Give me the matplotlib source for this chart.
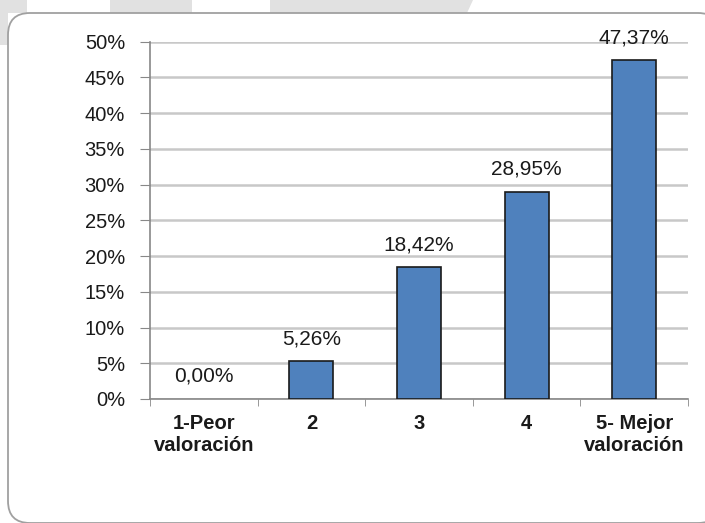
import numpy as np
import matplotlib
matplotlib.use('Agg')
from matplotlib import pyplot as plt
from matplotlib.patches import FancyBboxPatch, Polygon
from matplotlib.ticker import FixedLocator

plt.rcParams['font.family'] = ['Liberation Sans', 'DejaVu Sans']

# datos
categorias = ['1-Peor\nvaloración', '2', '3', '4', '5- Mejor\nvaloración']
valores = [0.00, 5.26, 18.42, 28.95, 47.37]
etiquetas = ['0,00%', '5,26%', '18,42%', '28,95%', '47,37%']
yticks = [0, 5, 10, 15, 20, 25, 30, 35, 40, 45, 50]

W, H = 705, 523
fig = plt.figure(figsize=(W/100, H/100), dpi=100)
fig.patch.set_facecolor('white')

# franja gris de fondo arriba (en pixeles, y desde arriba)
def px(pts):
    return [(x, H - y) for x, y in pts]

gris = '#e1e1e1'
for pts in ([(0, 0), (27, 0), (27, 13), (8, 13), (8, 45), (0, 45)],
            [(110, 0), (192, 0), (192, 13), (110, 13)],
            [(270, 0), (473, 0), (467, 13), (270, 13)]):
    fig.patches.append(Polygon(px(pts), closed=True, transform=None,
                               facecolor=gris, edgecolor='none', zorder=0))

# marco redondeado (sale por la derecha)
caja = FancyBboxPatch((8, 0), 712, 510, boxstyle='round,pad=0,rounding_size=22',
                      transform=None, facecolor='white', edgecolor='#a0a0a0',
                      linewidth=1.3, zorder=1)
fig.patches.append(caja)

ax = fig.add_axes([150/W, 1 - 399/H, (688 - 150)/W, (399 - 41.7)/H])
ax.set_facecolor('none')
ax.set_zorder(2)

x = np.arange(len(categorias))
bordes = [0 if v == 0 else 1.2 for v in valores]
ax.bar(x, valores, width=0.41, color='#4f81bd', edgecolor='#1a1a1a',
       linewidth=bordes, zorder=3)

for xi, v, t in zip(x, valores, etiquetas):
    ax.annotate(t, (xi, v), xytext=(0, 12.5), textcoords='offset points',
                ha='center', va='baseline', fontsize=15, color='#1a1a1a')

ax.set_xlim(-0.5, 4.5)
ax.set_ylim(0, 50)
ax.set_yticks(yticks)
ax.set_yticklabels(['%d%%' % v for v in yticks], fontsize=14.5, color='#1a1a1a')
ax.set_xticks(x)
ax.set_xticklabels(categorias, fontsize=14.5, fontweight='bold',
                   color='#1a1a1a', linespacing=1.15)
ax.xaxis.set_minor_locator(FixedLocator(np.arange(-0.5, 5, 1)))
ax.tick_params(axis='x', which='major', length=0, pad=11)
ax.tick_params(axis='x', which='minor', length=5, color='#888888', direction='out')
ax.tick_params(axis='y', length=7, color='#888888', pad=11)

ax.yaxis.grid(True, color='#c8c8c8', linewidth=1.8, zorder=0)
ax.set_axisbelow(True)
for s in ['top', 'right']:
    ax.spines[s].set_visible(False)
ax.spines['left'].set_color('#888888')
ax.spines['bottom'].set_color('#888888')
ax.spines['left'].set_linewidth(1.2)
ax.spines['bottom'].set_linewidth(1.2)

fig.savefig('out.png', dpi=100)
